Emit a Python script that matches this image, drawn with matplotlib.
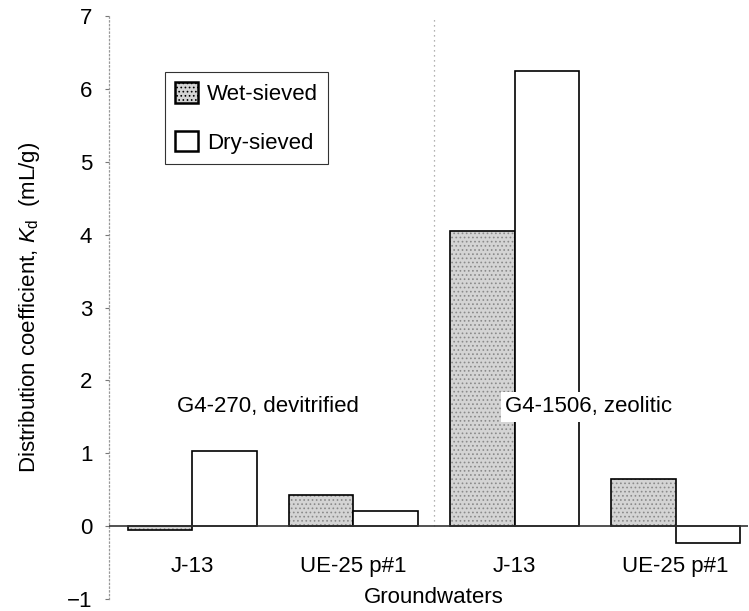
import numpy as np
import matplotlib
matplotlib.use("Agg")
import matplotlib.pyplot as plt
from matplotlib.patches import Patch

plt.rcParams['font.family'] = ['Liberation Sans', 'DejaVu Sans']
plt.rcParams['mathtext.fontset'] = 'custom'
plt.rcParams['mathtext.rm'] = 'Liberation Sans'
plt.rcParams['mathtext.it'] = 'Liberation Sans:italic'
plt.rcParams['hatch.linewidth'] = 0.7

# data
groundwaters = ["J-13", "UE-25 p#1", "J-13", "UE-25 p#1"]
wet_sieved = [-0.05, 0.43, 4.05, 0.65]
dry_sieved = [1.03, 0.21, 6.24, -0.23]
sample_labels = ["G4-270, devitrified", "G4-1506, zeolitic"]
yticks = [-1, 0, 1, 2, 3, 4, 5, 6, 7]

fs = 16
fig = plt.figure(figsize=(7.49, 6.11), dpi=100)
ax = fig.add_axes([109/749, 12/611, 639/749, 583/611])

x = np.arange(len(groundwaters))
w = 0.40
stip = '#d4d4d4'

# stippled fill first, then outlines on top
ax.bar(x - w/2, wet_sieved, w, color=stip, hatch='....', edgecolor='#8a8a8a', linewidth=0, zorder=2)
ax.bar(x - w/2, wet_sieved, w, fill=False, edgecolor='black', linewidth=1.2, zorder=3)
ax.bar(x + w/2, dry_sieved, w, color='white', edgecolor='black', linewidth=1.2, zorder=3)

ax.axhline(0, color='#333333', linewidth=1.2, zorder=4)
ax.plot([1.5, 1.5], [0, 7], color='#999999', linestyle=(0, (1, 3)), linewidth=0.9, zorder=1)

ax.set_xlim(-0.517, 3.449)
ax.set_ylim(-1, 7)
ax.set_yticks(yticks)
ax.set_yticklabels([str(t).replace('-', '\u2212') for t in yticks], fontsize=fs)
ax.tick_params(axis='y', length=3, width=0.8, color='#777777', pad=9)
ax.set_xticks([])

for s in ['top', 'right', 'bottom']:
    ax.spines[s].set_visible(False)
ax.spines['left'].set_color('#999999')
ax.spines['left'].set_linestyle((0, (1, 2)))
ax.spines['left'].set_linewidth(0.9)

for xi, lab in zip(x, groundwaters):
    ax.text(xi, -0.55, lab, ha='center', va='center', fontsize=fs)
ax.text(1.5, -0.98, "Groundwaters", ha='center', va='center', fontsize=fs)

ax.text(-0.097, 1.56, sample_labels[0], ha='left', va='baseline', fontsize=fs, zorder=5)
ax.text(1.94, 1.56, sample_labels[1], ha='left', va='baseline', fontsize=fs, zorder=5,
        bbox=dict(facecolor='white', edgecolor='none', pad=3))

ax.set_ylabel(r'Distribution coefficient, $K_{\rm d}$  (mL/g)', fontsize=fs, labelpad=18)

handles = [Patch(facecolor=stip, hatch='....', edgecolor='black', linewidth=1.8),
           Patch(facecolor='white', edgecolor='black', linewidth=1.8)]
leg = ax.legend(handles, ["Wet-sieved", "Dry-sieved"], loc='upper left',
                bbox_to_anchor=(0.0876, 0.9034), fontsize=fs, frameon=True,
                fancybox=False, borderaxespad=0, handlelength=1.05, handleheight=1.05,
                labelspacing=1.15, borderpad=0.45, handletextpad=0.4)
leg.get_frame().set_edgecolor('black')
leg.get_frame().set_linewidth(0.8)

fig.savefig("out.png", dpi=100)
